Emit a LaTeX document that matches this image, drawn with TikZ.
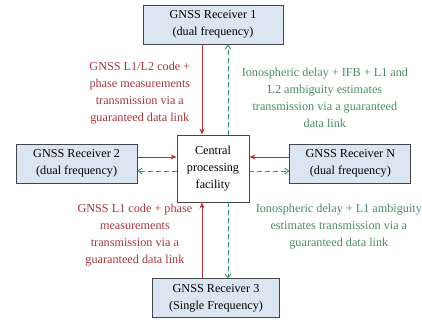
\documentclass[tikz,border=0pt]{standalone}
\usepackage{fontspec}
\setmainfont{Liberation Serif}
\usetikzlibrary{positioning,arrows.meta}
\definecolor{boxfill}{RGB}{220,230,242}
\definecolor{boxline}{RGB}{70,70,70}
\definecolor{linkred}{RGB}{192,45,45}
\definecolor{textred}{RGB}{165,55,60}
\definecolor{linkgreen}{RGB}{50,145,95}
\definecolor{textgreen}{RGB}{75,140,100}

\begin{document}
\begin{tikzpicture}[x=1pt, y=-1pt, font=\fontsize{12.2}{17}\selectfont,
    rxbox/.style={draw=boxline, line width=0.9pt, fill=boxfill, inner sep=0pt, align=center, minimum height=39pt},
    uplink/.style={linkred, line width=0.9pt, -{Stealth[length=6pt,width=5pt]}},
    downlink/.style={linkgreen, line width=0.9pt, dash pattern=on 5pt off 3pt, -{Straight Barb[length=4pt,width=6pt]}},
    redlbl/.style={text=textred, align=center},
    greenlbl/.style={text=textgreen, align=center}]
        \useasboundingbox (0,0) rectangle (422,322);
        \node[draw=boxline, line width=0.9pt, fill=white, minimum width=72pt, minimum height=67pt, inner sep=0pt, align=center] (cpf) at (213,168.5) {Central\\processing\\facility};
        \node[rxbox, minimum width=140pt, above=90pt of cpf] (rx1) {GNSS Receiver 1\\(dual frequency)};
        \node[rxbox, minimum width=121pt, left=39pt of cpf, yshift=5pt] (rx2) {GNSS Receiver 2\\(dual frequency)};
        \node[rxbox, minimum width=121pt, right=40pt of cpf, yshift=5pt] (rxn) {GNSS Receiver N\\(dual frequency)};
        \node[rxbox, minimum width=127pt, below=76pt of cpf, xshift=3pt] (rx3) {GNSS Receiver 3\\(Single Frequency)};
        % receivers -> facility
        \draw[uplink] ([xshift=-11pt]cpf.north |- rx1.south) -- node[redlbl, left=8pt, yshift=-4pt]{GNSS L1/L2 code +\\phase measurements\\transmission via a\\guaranteed data link} ([xshift=-11pt]cpf.north);
        \draw[uplink] ([xshift=-11pt]cpf.south |- rx3.north) -- node[redlbl, left=6pt, yshift=5pt]{GNSS L1 code + phase\\measurements\\transmission via a\\guaranteed data link} ([xshift=-11pt]cpf.south);
        \draw[uplink] ([yshift=6.5pt]rx2.east) -- ([yshift=6.5pt]rx2.east -| cpf.west);
        \draw[uplink] ([yshift=6.5pt]rxn.west) -- ([yshift=6.5pt]rxn.west -| cpf.east);
        % facility -> receivers
        \draw[downlink] ([xshift=15pt]cpf.north) -- node[greenlbl, right=10pt, yshift=-8pt]{Ionospheric delay + IFB + L1 and\\L2 ambiguity estimates\\transmission via a guaranteed\\data link} ([xshift=15pt]cpf.north |- rx1.south);
        \draw[downlink] ([xshift=15pt]cpf.south) -- node[greenlbl, right=24pt, yshift=14pt]{Ionospheric delay + L1 ambiguity\\estimates transmission via a\\guaranteed data link} ([xshift=15pt]cpf.south |- rx3.north);
        \draw[downlink] ([yshift=-7.5pt]rx2.east -| cpf.west) -- ([yshift=-7.5pt]rx2.east);
        \draw[downlink] ([yshift=-7.5pt]rxn.west -| cpf.east) -- ([yshift=-7.5pt]rxn.west);
      \end{tikzpicture}
\end{document}
